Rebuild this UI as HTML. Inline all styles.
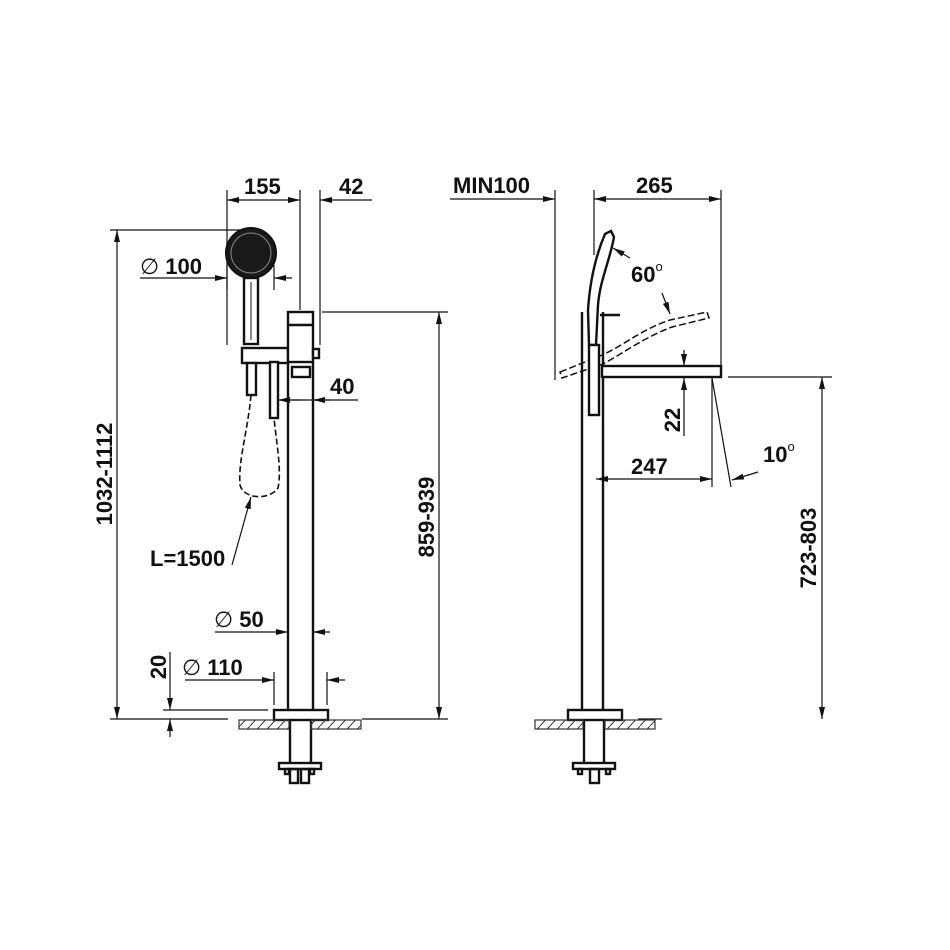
<!DOCTYPE html>
<html><head><meta charset="utf-8"><style>
html,body{margin:0;padding:0;background:#fff;}
svg{display:block;}
text{font-family:"Liberation Sans",Arial,sans-serif;font-weight:bold;font-size:22px;fill:#111;}
</style></head><body>
<svg width="950" height="950" viewBox="0 0 950 950" xmlns="http://www.w3.org/2000/svg">
<defs>
<marker id="a" viewBox="0 0 12 6" refX="12" refY="3" markerWidth="12" markerHeight="6" orient="auto-start-reverse" markerUnits="userSpaceOnUse"><path d="M0,0 L12,3 L0,6 z" fill="#111"/></marker>
<pattern id="h" width="10" height="11" patternUnits="userSpaceOnUse"><line x1="0" y1="11" x2="10" y2="0" stroke="#333" stroke-width="1"/></pattern>
</defs>
<g stroke="#111" fill="none" stroke-width="1.2">
<line x1="227" y1="190" x2="227" y2="345"/>
<line x1="300" y1="190" x2="300" y2="310"/>
<line x1="320" y1="190" x2="320" y2="345"/>
<line x1="110" y1="230" x2="240" y2="230"/>
<line x1="322" y1="312" x2="448" y2="312"/>
<line x1="110" y1="719" x2="228" y2="719"/>
<line x1="362" y1="719" x2="448" y2="719"/>
<line x1="227" y1="200" x2="300" y2="200" marker-start="url(#a)" marker-end="url(#a)"/>
<line x1="372" y1="200" x2="320" y2="200" marker-end="url(#a)"/>
<line x1="140" y1="278" x2="227" y2="278" marker-end="url(#a)"/>
<line x1="292" y1="278" x2="274" y2="278" marker-end="url(#a)"/>
<line x1="227" y1="265" x2="227" y2="290"/><line x1="274" y1="265" x2="274" y2="290"/>
<line x1="278" y1="400" x2="358" y2="400"/>
<line x1="300" y1="400" x2="278" y2="400" marker-end="url(#a)"/>
<line x1="330" y1="400" x2="313" y2="400" marker-end="url(#a)"/>
<line x1="117" y1="230" x2="117" y2="719" marker-start="url(#a)" marker-end="url(#a)"/>
<line x1="439" y1="312" x2="439" y2="719" marker-start="url(#a)" marker-end="url(#a)"/>
<line x1="215" y1="632" x2="288" y2="632" marker-end="url(#a)"/>
<line x1="330" y1="632" x2="313" y2="632" marker-end="url(#a)"/>
<line x1="185" y1="680" x2="274" y2="680" marker-end="url(#a)"/>
<line x1="345" y1="680" x2="327" y2="680" marker-end="url(#a)"/>
<line x1="274" y1="672" x2="274" y2="705"/><line x1="327" y1="672" x2="327" y2="705"/>
<line x1="163" y1="710" x2="268" y2="710"/>
<line x1="170" y1="652" x2="170" y2="710" marker-end="url(#a)"/>
<line x1="170" y1="737" x2="170" y2="719" marker-end="url(#a)"/>
<line x1="232" y1="565" x2="251" y2="497" marker-end="url(#a)"/>
<path d="M251,395 C248,430 238,460 240,485 C244,500 270,500 278,488 C282,470 276,440 274,418" stroke-dasharray="6,3" stroke-width="1.6"/>
<circle cx="251" cy="253" r="25" fill="#1a1a1a" stroke-width="2"/>
<circle cx="251" cy="253" r="20" fill="none" stroke="#888" stroke-width="1"/>
<g stroke-width="2.4">
<rect x="244" y="278" width="14" height="66" fill="#fff"/>
<line x1="251" y1="282" x2="251" y2="340" stroke-width="1"/>
<rect x="242" y="348" width="46" height="15" fill="#fff"/>
<rect x="247" y="363" width="9" height="32" fill="#fff"/>
<rect x="270" y="362" width="8" height="56" fill="#fff"/>
<rect x="288" y="312" width="25" height="50" fill="#fff"/>
<line x1="288" y1="325" x2="313" y2="325"/>
<rect x="313" y="349" width="6" height="9" fill="#fff"/>
<line x1="288" y1="362" x2="288" y2="714"/>
<line x1="313" y1="362" x2="313" y2="714"/>
<rect x="292" y="367" width="18" height="10"/>
<rect x="274" y="710" width="54" height="10" fill="#fff"/>
<line x1="290" y1="720" x2="290" y2="763"/><line x1="311" y1="720" x2="311" y2="763"/>
<rect x="279" y="763" width="42" height="6" fill="#fff"/>
<rect x="290" y="769" width="8" height="14"/><rect x="301" y="769" width="8" height="14"/>
<rect x="285" y="769" width="4" height="5"/><rect x="310" y="769" width="4" height="5"/>
</g>
<rect x="239" y="720" width="50" height="9" fill="url(#h)" stroke="#333"/>
<rect x="311" y="720" width="50" height="9" fill="url(#h)" stroke="#333"/>

<line x1="555" y1="190" x2="555" y2="380"/>
<line x1="594" y1="190" x2="594" y2="255"/>
<line x1="721" y1="190" x2="721" y2="365"/>
<line x1="450" y1="199" x2="555" y2="199" marker-end="url(#a)"/>
<line x1="594" y1="199" x2="721" y2="199" marker-start="url(#a)" marker-end="url(#a)"/>
<line x1="728" y1="377" x2="832" y2="377"/>
<line x1="822" y1="377" x2="822" y2="719" marker-start="url(#a)" marker-end="url(#a)"/>
<line x1="638" y1="719" x2="662" y2="719"/>
<line x1="684" y1="350" x2="684" y2="366" marker-end="url(#a)"/>
<line x1="684" y1="436" x2="684" y2="378" marker-end="url(#a)"/>
<line x1="596" y1="479" x2="712" y2="479" marker-start="url(#a)" marker-end="url(#a)"/>
<line x1="712" y1="378" x2="712" y2="487"/>
<line x1="712" y1="378" x2="731" y2="487"/>
<line x1="758" y1="472" x2="732" y2="480" marker-end="url(#a)"/>
<line x1="630" y1="258" x2="613" y2="248" marker-end="url(#a)"/>
<line x1="662" y1="293" x2="670" y2="314" marker-end="url(#a)"/>
<path d="M560,372 L600,356 C625,345 640,330 670,320 L707,312 L709,318 L672,327 C645,337 625,352 603,364 L562,378 Z" stroke-dasharray="7,3" stroke-width="1.5"/>
<g stroke-width="2.4">
<path d="M605,234 L611,231 L614,237 C610,260 600,280 598,305 L596,345 L589,345 L588,310 C590,280 596,255 605,234 Z" fill="#fff"/>
<rect x="589" y="345" width="10" height="70" fill="#fff"/>
<line x1="582" y1="312" x2="582" y2="719"/>
<line x1="603" y1="312" x2="603" y2="365"/>
<line x1="603" y1="378" x2="603" y2="719"/>
<line x1="600" y1="315" x2="620" y2="315"/>
<rect x="602" y="366" width="119" height="11" fill="#fff"/>
<rect x="568" y="710" width="54" height="10" fill="#fff"/>
<line x1="584" y1="720" x2="584" y2="763"/><line x1="604" y1="720" x2="604" y2="763"/>
<rect x="573" y="763" width="42" height="6" fill="#fff"/>
<rect x="590" y="769" width="9" height="14"/>
<rect x="578" y="769" width="4" height="5"/><rect x="606" y="769" width="4" height="5"/>
</g>
<rect x="535" y="720" width="48" height="9" fill="url(#h)" stroke="#333"/>
<rect x="605" y="720" width="50" height="9" fill="url(#h)" stroke="#333"/>
</g>

<text x="244" y="194">155</text>
<text x="339" y="194">42</text>
<text x="140" y="274"><tspan font-weight="normal">∅</tspan> 100</text>
<text x="330" y="394">40</text>
<text x="150" y="566">L=1500</text>
<text x="214" y="627"><tspan font-weight="normal">∅</tspan> 50</text>
<text x="182" y="675"><tspan font-weight="normal">∅</tspan> 110</text>
<text transform="translate(166,667) rotate(-90)" text-anchor="middle">20</text>
<text transform="translate(112,474) rotate(-90)" text-anchor="middle">1032-1112</text>
<text transform="translate(434,517) rotate(-90)" text-anchor="middle">859-939</text>
<text x="453" y="193">MIN100</text>
<text x="636" y="193">265</text>
<text x="631" y="282">60<tspan font-size="13" dy="-11" font-weight="normal">o</tspan></text>
<text transform="translate(680,420) rotate(-90)" text-anchor="middle">22</text>
<text x="631" y="474">247</text>
<text x="763" y="462">10<tspan font-size="13" dy="-11" font-weight="normal">o</tspan></text>
<text transform="translate(816,548) rotate(-90)" text-anchor="middle">723-803</text>
</svg>
</body></html>
